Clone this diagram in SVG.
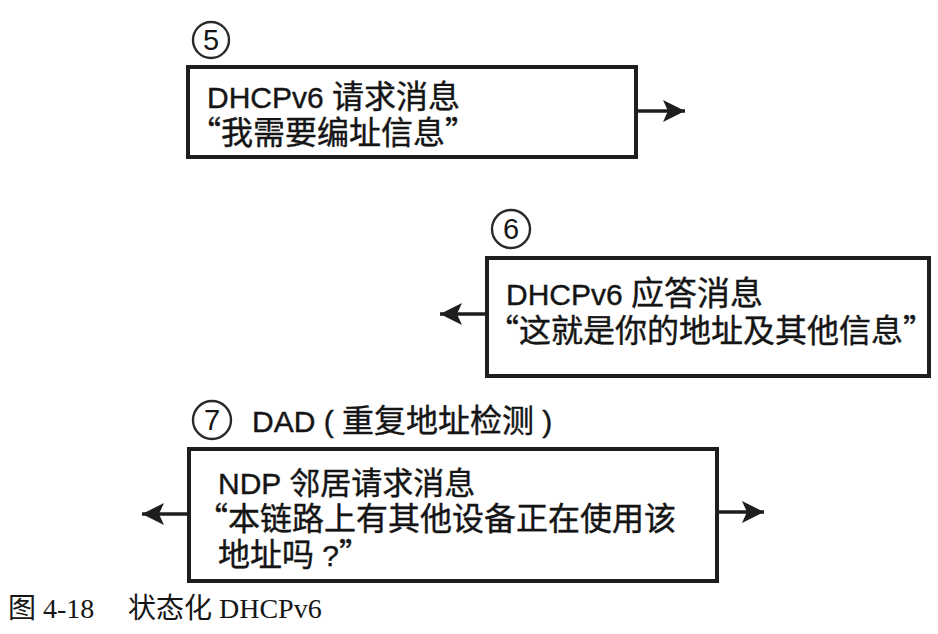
<svg xmlns="http://www.w3.org/2000/svg" width="938" height="634" viewBox="0 0 938 634">
<style>
.box{fill:#fff;stroke:#1e1e1e;stroke-width:4}
.num{fill:none;stroke:#2a2a2a;stroke-width:2.4}
.t{font-family:"Liberation Sans","Noto Sans CJK SC",sans-serif;font-size:30px;fill:#151515;stroke:#151515;stroke-width:0.4}
.c{font-family:"Noto Sans CJK SC",sans-serif;font-size:32px}
.n{font-family:"Liberation Sans",sans-serif;font-size:29px;fill:#151515;text-anchor:middle}
.cap{font-family:"Liberation Serif","Noto Sans CJK SC",serif;font-size:28px;fill:#151515}
.arr{stroke:#1e1e1e;stroke-width:3.5;fill:none}
</style>
<defs>
<marker id="ah" markerUnits="userSpaceOnUse" markerWidth="24" markerHeight="22" refX="22" refY="11" orient="auto">
<path d="M0,0 L22,11 L0,22 L5,11 Z" fill="#1e1e1e"/>
</marker>
</defs>
<rect width="938" height="634" fill="#fff"/>
<g id="connectors">
<line class="arr" x1="636" y1="111" x2="685" y2="111" marker-end="url(#ah)"/>
<line class="arr" x1="487" y1="314" x2="440" y2="314" marker-end="url(#ah)"/>
<line class="arr" x1="189" y1="514" x2="142" y2="514" marker-end="url(#ah)"/>
<line class="arr" x1="717" y1="512" x2="764" y2="512" marker-end="url(#ah)"/>
</g>
<g id="step5">
<circle class="num" cx="211" cy="40" r="18"/>
<text class="n" x="211" y="50">5</text>
<rect class="box" x="188" y="67" width="448" height="90"/>
<text class="t" x="207" y="108">DHCPv6 <tspan class="c">请求消息</tspan></text>
<text class="t" x="189" y="144"><tspan class="c">“我需要编址信息”</tspan></text>
</g>
<g id="step6">
<circle class="num" cx="511" cy="229" r="19"/>
<text class="n" x="511" y="239">6</text>
<rect class="box" x="487" y="258" width="442" height="118"/>
<text class="t" x="506" y="305">DHCPv6 <tspan class="c" style="font-size:33px">应答消息</tspan></text>
<text class="t" x="487" y="342"><tspan class="c">“这就是你的地址及其他信息”</tspan></text>
</g>
<g id="step7">
<circle class="num" cx="212" cy="420" r="19"/>
<text class="n" x="212" y="430">7</text>
<text class="t" x="252" y="432">DAD ( <tspan class="c">重复地址检测</tspan> )</text>
<rect class="box" x="189" y="449" width="528" height="132"/>
<text class="t" x="218" y="494">NDP <tspan class="c" style="font-size:31px">邻居请求消息</tspan></text>
<text class="t" x="196" y="530"><tspan class="c">“本链路上有其他设备正在使用该</tspan></text>
<text class="t" x="218" y="566"><tspan class="c">地址吗</tspan> ?<tspan class="c">”</tspan></text>
</g>
<g id="caption">
<text class="cap" x="8" y="618">图 4-18</text>
<text class="cap" x="128" y="618">状态化 DHCPv6</text>
</g>
</svg>
